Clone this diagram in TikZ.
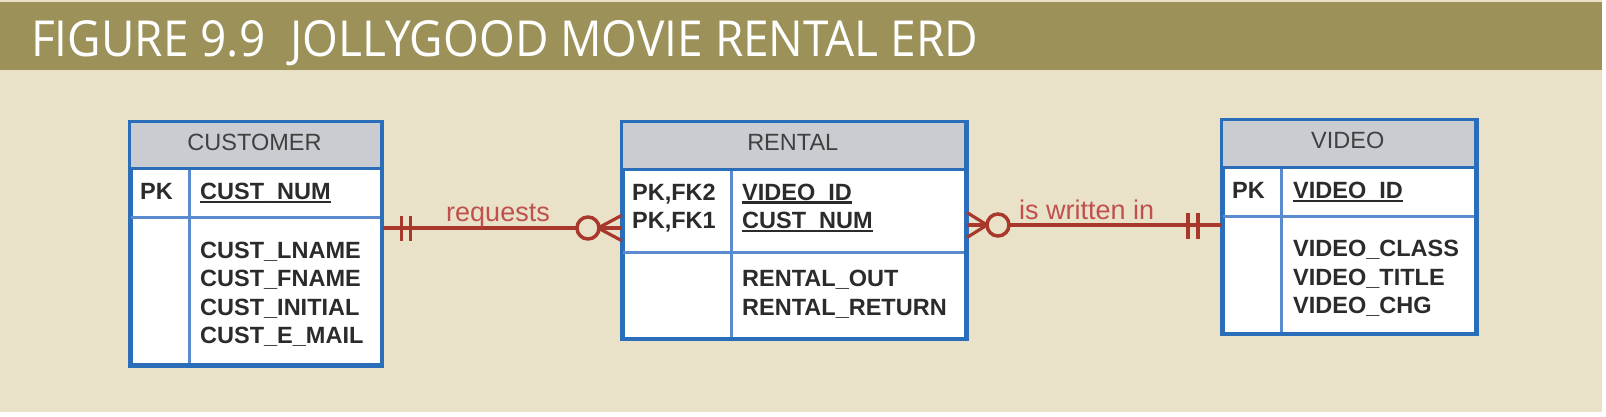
\documentclass[tikz,border=0pt]{standalone}
\usepackage{fontspec}
\setmainfont{Liberation Sans}
\newfontfamily\titlefont{Open Sans}
\definecolor{beige}{HTML}{E9E2C9}
\definecolor{olive}{HTML}{9C9259}
\definecolor{eblue}{HTML}{2A6DB8}
\definecolor{lblue}{HTML}{5B8BCF}
\definecolor{hgray}{HTML}{C9CDD1}
\definecolor{txt}{HTML}{2B2B2B}
\definecolor{relred}{HTML}{A8382B}
\definecolor{labred}{HTML}{C0504D}
\newcommand\keyfield[1]{\setbox0\hbox{#1}\rlap{\rule[-3.5pt]{\wd0}{2.2pt}}\box0}
\begin{document}
\begin{tikzpicture}[x=1pt,y=-1pt,
  entbox/.style={draw=eblue,line width=3pt,inner sep=0pt,anchor=north west,fill=white},
  divline/.style={draw=lblue,line width=3pt},
  edgeline/.style={draw=eblue,line width=3pt},
  headtxt/.style={font=\fontsize{23.5}{28}\selectfont,text=txt!90,anchor=base,inner sep=0pt},
  fieldtxt/.style={font=\fontsize{23.5}{28.5}\selectfont\bfseries,text=txt,anchor=base west,inner sep=0pt},
  rel/.style={draw=relred,line width=4pt},
  reltick/.style={draw=relred,line width=3.5pt},
  relfoot/.style={draw=relred,line width=3.2pt},
  relcirc/.style={draw=relred,line width=3.5pt,fill=beige},
  reltxt/.style={font=\fontsize{27}{30}\selectfont,text=labred,inner sep=0pt}]
\useasboundingbox (0,0) rectangle (1606,416);
\fill[white] (0,0) rectangle (1606,416);
\fill[beige] (0,0) rectangle (1602,412);
\fill[olive] (0,2) rectangle (1602,70);
\node[anchor=base west,inner sep=0pt,text=white] (title) at (31,56)
  {\resizebox{947pt}{36pt}{\titlefont FIGURE 9.9\hspace{0.55em}JOLLYGOOD MOVIE RENTAL ERD}};

% CUSTOMER
\node[entbox,minimum width=250pt,minimum height=242pt] (cust) at (129.5,121) {};
\fill[hgray] (cust.north west) rectangle (379.5,168.5);
\draw[divline] (129.5,217.5) -- (379.5,217.5);
\draw[divline] (189.5,168.5) -- (189.5,363);
\draw[edgeline] (cust.north west) rectangle (cust.south east);
\draw[edgeline] (129.5,168.5) -- (379.5,168.5);
\node[headtxt] (custh) at (254.5,150.5) {CUSTOMER};
\node[fieldtxt] (custpk) at (140,199.5) {PK};
\node[fieldtxt] (custkey) at (200,199.5) {\keyfield{CUST\_NUM}};
\node[fieldtxt] (custf1) at (200,258) {CUST\_LNAME};
\node[fieldtxt] (custf2) at (200,286.5) {CUST\_FNAME};
\node[fieldtxt] (custf3) at (200,315) {CUST\_INITIAL};
\node[fieldtxt] (custf4) at (200,343.5) {CUST\_E\_MAIL};

% RENTAL
\node[entbox,minimum width=342.5pt,minimum height=215.5pt] (rent) at (621.5,121) {};
\fill[hgray] (rent.north west) rectangle (964,169.5);
\draw[divline] (621.5,252.5) -- (964,252.5);
\draw[divline] (731.5,169.5) -- (731.5,336.5);
\draw[edgeline] (rent.north west) rectangle (rent.south east);
\draw[edgeline] (621.5,169.5) -- (964,169.5);
\node[headtxt] (renth) at (792.75,150.5) {RENTAL};
\node[fieldtxt] (rentpk1) at (632,200) {PK,FK2};
\node[fieldtxt] (rentpk2) at (632,228.5) {PK,FK1};
\node[fieldtxt] (rentkey1) at (742,200) {\keyfield{VIDEO\_ID}};
\node[fieldtxt] (rentkey2) at (742,228.5) {\keyfield{CUST\_NUM}};
\node[fieldtxt] (rentf1) at (742,286.5) {RENTAL\_OUT};
\node[fieldtxt] (rentf2) at (742,315) {RENTAL\_RETURN};

% VIDEO
\node[entbox,minimum width=252.5pt,minimum height=212pt] (vid) at (1221.5,119.5) {};
\fill[hgray] (vid.north west) rectangle (1474,167);
\draw[divline] (1221.5,216) -- (1474,216);
\draw[divline] (1281.5,167) -- (1281.5,331.5);
\draw[edgeline] (vid.north west) rectangle (vid.south east);
\draw[edgeline] (1221.5,167) -- (1474,167);
\node[headtxt] (vidh) at (1347.75,148.5) {VIDEO};
\node[fieldtxt] (vidpk) at (1232,198.5) {PK};
\node[fieldtxt] (vidkey) at (1293,198.5) {\keyfield{VIDEO\_ID}};
\node[fieldtxt] (vidf1) at (1293,256.5) {VIDEO\_CLASS};
\node[fieldtxt] (vidf2) at (1293,285) {VIDEO\_TITLE};
\node[fieldtxt] (vidf3) at (1293,313.5) {VIDEO\_CHG};

% requests: CUSTOMER (one, mandatory) -- RENTAL (many, optional)
\coordinate (r1) at (cust.east |- 0,228);
\coordinate (r2) at (rent.west |- 0,228);
\draw[rel] (r1) -- (r2);
\draw[reltick] (401.5,215.5) -- (401.5,240.5);
\draw[reltick] (410.5,215.5) -- (410.5,240.5);
\draw[relfoot] (598,228) -- ([yshift=12.5pt]r2) (598,228) -- (r2) (598,228) -- ([yshift=-12.5pt]r2);
\draw[relcirc] (588,228) circle (11pt);
\node[reltxt,anchor=base] (reqlab) at (498,221.5) {requests};

% is written in: RENTAL (many, optional) -- VIDEO (one, mandatory)
\coordinate (w1) at (rent.east |- 0,225);
\coordinate (w2) at (vid.west |- 0,225);
\draw[rel] (w1) -- (w2);
\draw[relfoot] (987,225) -- ([yshift=12.5pt]w1) (987,225) -- (w1) (987,225) -- ([yshift=-12.5pt]w1);
\draw[relcirc] (998,225) circle (11pt);
\draw[reltick] (1188,212.5) -- (1188,238.5);
\draw[reltick] (1198,212.5) -- (1198,238.5);
\node[reltxt,anchor=base west] (wrlab) at (1019,219.5) {is written in};
\end{tikzpicture}
\end{document}
